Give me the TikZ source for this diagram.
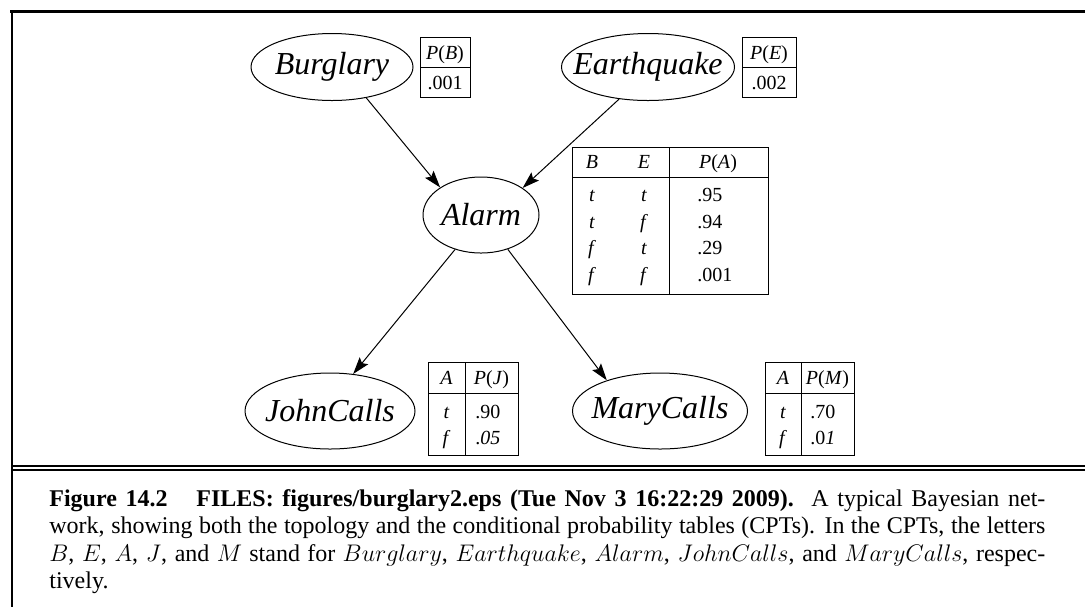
\documentclass[tikz,border=0pt]{standalone}
\usepackage{fontspec}
\setmainfont{Liberation Serif}
\usetikzlibrary{arrows.meta,calc,positioning,shapes.geometric}

\tikzset{
  var/.style={ellipse, draw, line width=0.5pt, inner sep=0pt, font=\fontsize{16}{18}\selectfont\itshape},
  cptline/.style={line width=0.5pt},
  cell/.style={font=\fontsize{10}{12}\selectfont, inner sep=0pt, anchor=base},
  val/.style={cell, anchor=base west},
  dep/.style={-{Stealth[length=8.5pt,width=5.5pt,inset=1.5pt]}, line width=0.5pt},
}
\newcommand{\vlabel}[1]{\makebox[0pt]{#1}}

\begin{document}
\begin{tikzpicture}[x=0.5pt,y=-0.5pt]
  \useasboundingbox (0,0) rectangle (1085,607);
  % frame
  \draw[line width=1.5pt] (10,11) -- (1085,11);
  \draw[line width=1pt] (11.5,11) -- (11.5,607);
  \draw[line width=1pt] (11.5,466) -- (1085,466) (11.5,470) -- (1085,470);

  % variables
  \node[var, minimum width=81pt, minimum height=33.5pt] (burglary) at (332,67) {\vlabel{Burglary}};
  \node[var, minimum width=86.5pt, minimum height=33.5pt] (earthquake) at (648,67) {\vlabel{Earthquake}};
  \node[var, minimum width=58pt, minimum height=38pt] (alarm) at (481,215) {\vlabel{Alarm}};
  \node[var, minimum width=85pt, minimum height=38pt] (johncalls) at (330,411) {\vlabel{JohnCalls}};
  \node[var, minimum width=87.5pt, minimum height=38pt] (marycalls) at (660,411) {\vlabel{MaryCalls}};

  \draw[dep] (burglary.-42) -- (alarm.146);
  \draw[dep] (earthquake.-132) -- (alarm.33);
  \draw[dep] (alarm.-127) -- (johncalls.58);
  \draw[dep] (alarm.-52) -- (marycalls.150);

  % P(B)
  \draw[cptline] (420,37) rectangle (470,97) (420,67) -- (470,67);
  \node[cell] (pbh) at (445,59) {\textit{P}(\textit{B})};
  \node[cell] (pbv) at (445,89) {.001};

  % P(E)
  \draw[cptline] (742,37) rectangle (796,97) (742,67) -- (796,67);
  \node[cell] (peh) at (769,59) {\textit{P}(\textit{E})};
  \node[cell] (pev) at (769,89) {.002};

  % P(A | B, E)
  \draw[cptline] (572,147) rectangle (768,294) (572,177) -- (768,177) (669,147) -- (669,294);
  \node[cell] (pab) at (592,168) {\textit{B}};
  \node[cell] (pae) at (644,168) {\textit{E}};
  \node[cell] (pah) at (718,168) {\textit{P}(\textit{A})};
  \foreach \b/\e/\p [count=\i] in {t/t/.95, t/f/.94, f/t/.29, f/f/.001} {
    \node[cell] (pab\i) at (592,{175+26.6*\i}) {\textit{\b}};
    \node[cell] (pae\i) at (644,{175+26.6*\i}) {\textit{\e}};
    \node[val] (pav\i) at (697,{175+26.6*\i}) {\p};
  }

  % P(J | A)
  \draw[cptline] (428,362) rectangle (518,455) (428,393) -- (518,393) (465,362) -- (465,455);
  \node[cell] (pja) at (446.5,384) {\textit{A}};
  \node[cell] (pjh) at (491.5,384) {\textit{P}(\textit{J})};
  \node[cell] (pja1) at (446.5,418) {\textit{t}};
  \node[val] (pjv1) at (475,418) {.90};
  \node[cell] (pja2) at (446.5,444) {\textit{f}};
  \node[val] (pjv2) at (475,444) {.\textit{05}};

  % P(M | A)
  \draw[cptline] (765,362) rectangle (854,455) (765,393) -- (854,393) (801,362) -- (801,455);
  \node[cell] (pma) at (783,384) {\textit{A}};
  \node[cell] (pmh) at (827.5,384) {\textit{P}(\textit{M})};
  \node[cell] (pma1) at (783,418) {\textit{t}};
  \node[val] (pmv1) at (810,418) {.70};
  \node[cell] (pma2) at (783,444) {\textit{f}};
  \node[val] (pmv2) at (810,444) {.0\textit{1}};

  % caption
  \node[anchor=north west, inner sep=0pt, text width=498pt, align=justify,
        font=\fontsize{12}{13.75}\selectfont] (caption) at (49,489)
    {\textbf{Figure 14.2\hspace{1.2em}FILES: figures/burglary2.eps (Tue Nov 3 16:22:29 2009).}\ \ A typical Bayesian net-\linebreak
     work, showing both the topology and the conditional probability tables (CPTs). In the CPTs, the letters\linebreak
     $B$, $E$, $A$, $J$, and $M$ stand for $Burglary$, $Earthquake$, $Alarm$, $JohnCalls$, and $MaryCalls$, respec-\linebreak
     tively.};
\end{tikzpicture}
\end{document}
